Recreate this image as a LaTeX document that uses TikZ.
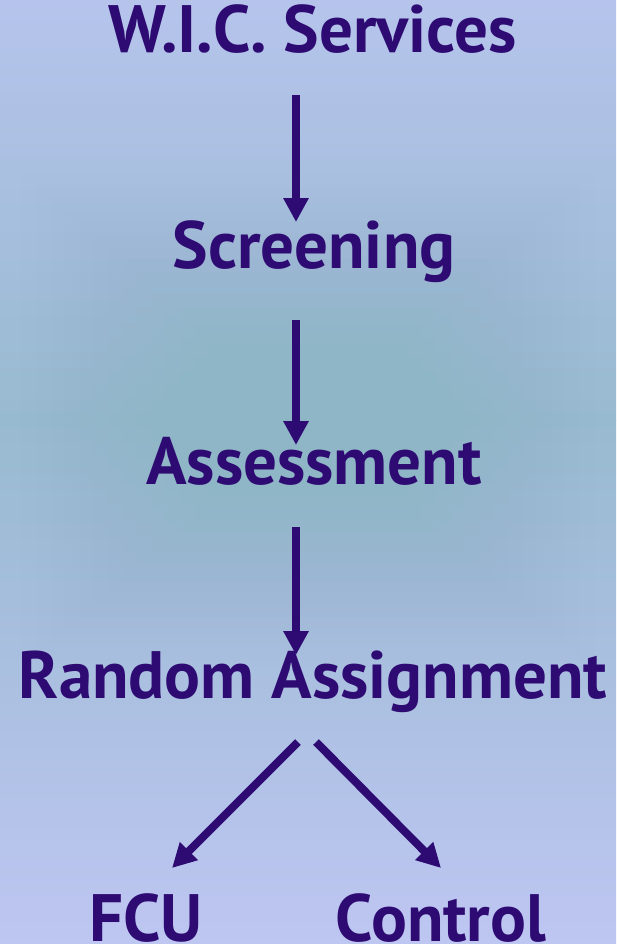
\documentclass[tikz,border=0pt]{standalone}
\usepackage{fontspec}
\setmainfont{PT Sans}
\usetikzlibrary{arrows.meta}
\definecolor{inkpurple}{HTML}{2E0B73}
\definecolor{bgtop}{HTML}{B6C4EC}
\definecolor{bgmid}{HTML}{98BAD0}
\definecolor{bgbottom}{HTML}{BEC6F2}
\definecolor{bgcore}{HTML}{8FB6C6}
\begin{document}
\begin{tikzpicture}[x=1pt,y=-1pt,
  txt/.style={font=\bfseries\fontsize{67}{67}\selectfont, text=inkpurple, inner sep=0pt, anchor=base},
  arr/.style={draw=inkpurple, line width=8pt, -{Triangle[width=24pt,length=24pt]}}]
  \useasboundingbox (0,0) rectangle (616,944);
  % background: vertical fade, lavender at the edges, teal in the middle
  \shade[top color=bgtop, bottom color=bgmid] (0,0) rectangle (616,420);
  \shade[top color=bgmid, bottom color=bgbottom] (0,420) rectangle (616,944);
  % slight extra depth towards the centre
  \foreach \i in {1,...,20}{
    \pgfmathsetmacro{\f}{1-\i/21}
    \pgfmathsetmacro{\xl}{308-300*\f}
    \pgfmathsetmacro{\xr}{308+300*\f}
    \pgfmathsetmacro{\yt}{420-260*\f}
    \pgfmathsetmacro{\yb}{420+260*\f}
    \fill[bgcore, opacity=0.03] (\xl,\yt) rectangle (\xr,\yb);
  }
  % labels
  \node[txt] (wic) at (313,53) {W.I.C. Services};
  \node[txt] (screen) at (314,268) {Screening};
  \node[txt] (assess) at (314,484) {Assessment};
  \node[txt] (random) at (313,698) {Random Assignment};
  \node[txt] (fcu) at (146,941) {FCU};
  \node[txt] (control) at (441,941) {Control};
  % connector ends
  \coordinate (a1s) at (296,95);  \coordinate (a1e) at (296,222);
  \coordinate (a2s) at (296,320); \coordinate (a2e) at (296,445);
  \coordinate (a3s) at (296,527); \coordinate (a3e) at (296,655);
  \coordinate (l1s) at (298,742); \coordinate (l1e) at (172,868);
  \coordinate (r1s) at (316,742); \coordinate (r1e) at (441,868);
  \draw[arr] (a1s) -- (a1e);
  \draw[arr] (a2s) -- (a2e);
  \draw[arr] (a3s) -- (a3e);
  \draw[arr] (l1s) -- (l1e);
  \draw[arr] (r1s) -- (r1e);
\end{tikzpicture}
\end{document}
